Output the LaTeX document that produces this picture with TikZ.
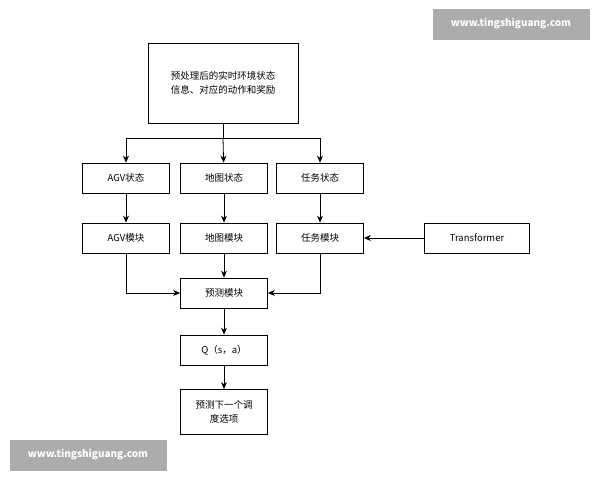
\documentclass[tikz,border=0pt]{standalone}
\usepackage{fontspec}
\setmainfont{Noto Sans CJK SC}
\usetikzlibrary{arrows.meta, positioning}

\begin{document}
\begin{tikzpicture}[x=1pt,y=-1pt]
		\tikzset{
			box/.style={rectangle, draw, thick, black, fill=white, align=center, font=\fontsize{9.5}{14}\selectfont,
			minimum width=87pt, minimum height=30pt, inner sep=2pt},
			stamp/.style={rectangle, fill=gray!65, text=white, font=\fontsize{10}{12}\selectfont\bfseries,
			minimum width=157pt, minimum height=31pt},
			>={Stealth[length=7pt,width=6pt]}
		}
		\useasboundingbox (0,0) rectangle (600,480);
		\fill[white] (0,0) rectangle (600,480);
		\node[box, minimum width=150pt, minimum height=80pt](input) at (223,83){预处理后的实时环境状态\\信息、对应的动作和奖励};
		\node[box](agvstate) at (126,178){AGV状态};
		\node[box](mapstate) at (224,178){地图状态};
		\node[box](taskstate) at (320,178){任务状态};
		\node[box](agvmod) at (126,238){AGV模块};
		\node[box](mapmod) at (224,238){地图模块};
		\node[box](taskmod) at (320,238){任务模块};
		\node[box, minimum width=105pt](trans) at (477,238){Transformer};
		\node[box](predict) at (224,293){预测模块};
		\node[box](q) at (224,350){Q（s，a）};
		\node[box, minimum height=45pt](next) at (224,412){预测下一个调\\度选项};
		\coordinate (split) at (223,138);

		\draw[thick](input) -- (split);
		\draw[thick,->](split) -| (agvstate);
		\draw[thick,->](split) -- (mapstate);
		\draw[thick,->](split) -| (taskstate);
		\draw[thick,->](agvstate) -- (agvmod);
		\draw[thick,->](mapstate) -- (mapmod);
		\draw[thick,->](taskstate) -- (taskmod);
		\draw[thick,->](trans) -- (taskmod);
		\draw[thick,->](agvmod) |- (predict);
		\draw[thick,->](mapmod) -- (predict);
		\draw[thick,->](taskmod) |- (predict);
		\draw[thick,->](predict) -- (q);
		\draw[thick,->](q) -- (next);

		\node[stamp](mark1) at (511,24){www.tingshiguang.com};
		\node[stamp](mark2) at (88,455){www.tingshiguang.com};
	\end{tikzpicture}
\end{document}
